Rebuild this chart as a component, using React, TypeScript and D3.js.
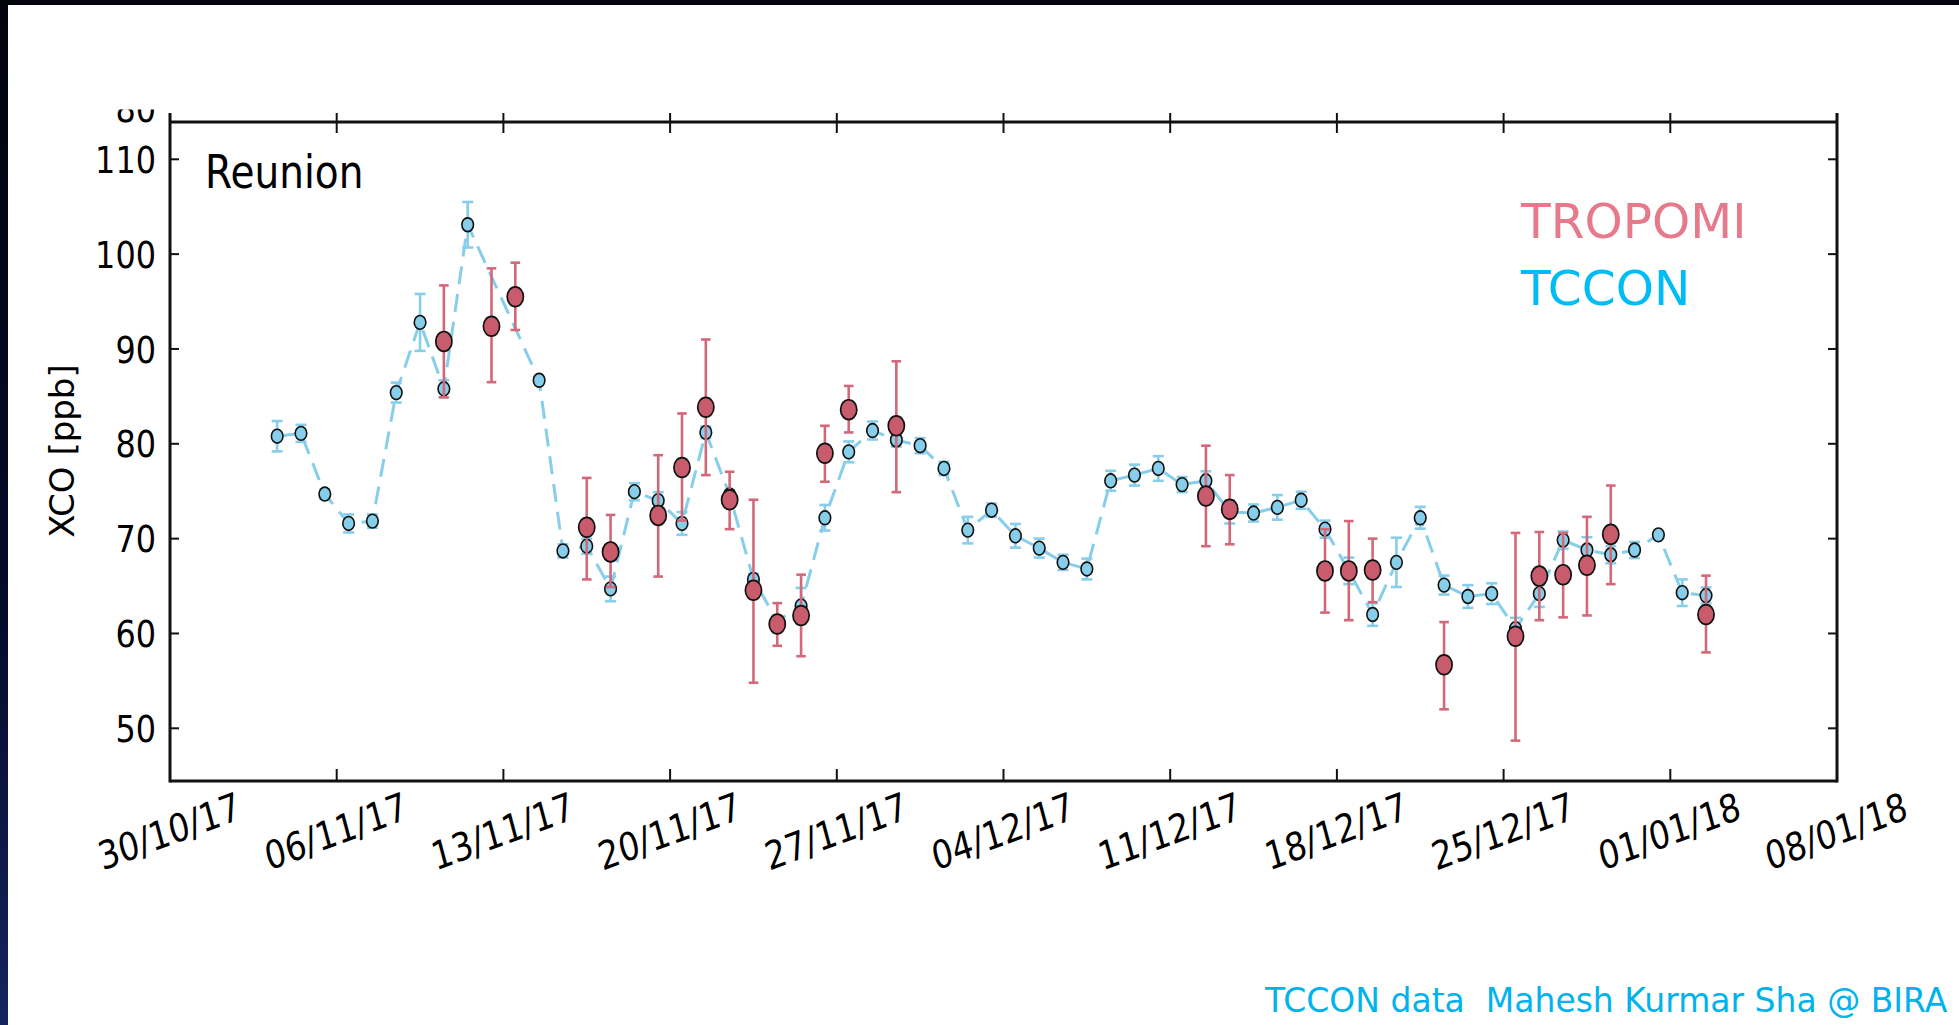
import React from "react";
import * as d3 from "d3";

// ---------- data ----------
const TCCON_DATES = [
  "2017-11-03","2017-11-04","2017-11-05","2017-11-06","2017-11-07","2017-11-08","2017-11-09","2017-11-10","2017-11-11",
  "2017-11-14","2017-11-15","2017-11-16","2017-11-17","2017-11-18","2017-11-19","2017-11-20","2017-11-21","2017-11-22",
  "2017-11-23","2017-11-24","2017-11-25","2017-11-26","2017-11-27","2017-11-28","2017-11-29","2017-11-30","2017-12-01",
  "2017-12-02","2017-12-03","2017-12-04","2017-12-05","2017-12-06","2017-12-07","2017-12-08","2017-12-09","2017-12-10",
  "2017-12-11","2017-12-12","2017-12-13","2017-12-14","2017-12-15","2017-12-16","2017-12-17","2017-12-18","2017-12-19",
  "2017-12-20","2017-12-21","2017-12-22","2017-12-23","2017-12-24","2017-12-25","2017-12-26","2017-12-27","2017-12-28",
  "2017-12-29","2017-12-30","2017-12-31","2018-01-01","2018-01-02",
];
const TCCON_XCO = [
  80.8, 81.1, 74.7, 71.6, 71.85, 85.4, 92.8, 85.8, 103.1,
  86.7, 68.7, 69.2, 64.7, 74.95, 74.0, 71.6, 81.2, 74.6,
  65.7, 61.3, 62.9, 72.2, 79.15, 81.4, 80.4, 79.8, 77.4,
  70.9, 73.0, 70.3, 69.0, 67.5, 66.8, 76.1, 76.7, 77.4,
  75.7, 76.1, 72.8, 72.7, 73.3, 74.05, 71.0, 66.6, 62.0,
  67.5, 72.2, 65.1, 63.9, 64.2, 60.5, 64.2, 69.85, 68.8,
  68.3, 68.8, 70.4, 64.3, 64.0,
];
const TCCON_ERR = [
  1.6, 0.9, 0.5, 0.95, 0.7, 1.05, 3.0, 0.9, 2.4,
  0.3, 0.7, 0.8, 1.3, 0.9, 0.9, 1.2, 0.6, 0.5,
  0.6, 0.5, 1.9, 1.35, 1.1, 0.95, 0.7, 0.8, 0.7,
  1.4, 0.7, 1.25, 1.0, 0.8, 1.1, 1.05, 1.1, 1.3,
  0.8, 1.0, 1.2, 0.9, 1.3, 0.9, 0.9, 1.4, 1.2,
  2.6, 1.15, 1.0, 1.2, 1.1, 1.15, 1.4, 0.9, 1.35,
  0.9, 0.85, 0.3, 1.4, 0.85,
];

const TROPOMI_DATES = [
  "2017-11-10","2017-11-12","2017-11-13","2017-11-16","2017-11-17","2017-11-19","2017-11-20","2017-11-21","2017-11-22",
  "2017-11-23","2017-11-24","2017-11-25","2017-11-26","2017-11-27","2017-11-29","2017-12-12","2017-12-13","2017-12-17",
  "2017-12-18","2017-12-19","2017-12-22","2017-12-25","2017-12-26","2017-12-27","2017-12-28","2017-12-29","2018-01-02",
];
const TROPOMI_XCO = [
  90.8, 92.4, 95.5, 71.2, 68.6, 72.45, 77.5, 83.85, 74.1,
  64.55, 61.0, 61.9, 79.0, 83.6, 81.9, 74.5, 73.1, 66.6,
  66.6, 66.7, 56.7, 59.7, 66.05, 66.2, 67.2, 70.45, 62.0,
];
const TROPOMI_LOW = [
  84.9, 86.5, 92.0, 65.7, 64.9, 66.0, 71.9, 76.7, 71.0,
  54.8, 58.7, 57.6, 76.0, 81.2, 74.9, 69.2, 69.4, 62.2,
  61.4, 63.3, 52.0, 48.7, 61.4, 61.7, 61.9, 65.2, 58.0,
];
const TROPOMI_HIGH = [
  96.7, 98.5, 99.1, 76.4, 72.5, 78.8, 83.2, 91.0, 77.05,
  74.1, 63.2, 66.2, 81.9, 86.1, 88.7, 79.8, 76.7, 71.0,
  71.85, 70.0, 61.2, 70.6, 70.7, 70.6, 72.3, 75.6, 66.1,
];

const X_START = "2017-10-30";
const X_END = "2018-01-08";
const Y_TICKS = [50, 60, 70, 80, 90, 100, 110];
const STATION = "Reunion";
const Y_LABEL = "XCO [ppb]";
const SERIES_NAMES = ["TROPOMI", "TCCON"];
const CREDIT = "TCCON data  Mahesh Kurmar Sha @ BIRA";

// ---------- layout ----------
const W = 1959, H = 1025;
const L = 170, R = 1837, TOP = 113, TOPSPINE = 122, BOT = 781;
const SX = 0.84; // horizontal squeeze of the reference
const FONT = "'DejaVu Sans', Verdana, sans-serif";

const parse = d3.timeParse("%Y-%m-%d");
const noon = (s: string) => d3.timeHour.offset(parse(s)!, 12);

const x = d3.scaleTime().domain([parse(X_START)!, parse(X_END)!]).range([L, R]);
const y = d3.scaleLinear().domain([50, 110]).range([728.3, 159.3]);
const xTicks = x.ticks(d3.timeMonday.every(1)!);
const fmt = d3.timeFormat("%d/%m/%y");

const tccon = TCCON_DATES.map((d, i) => ({ t: noon(d), v: TCCON_XCO[i], e: TCCON_ERR[i] }));
const tropomi = TROPOMI_DATES.map((d, i) => ({ t: noon(d), v: TROPOMI_XCO[i], lo: TROPOMI_LOW[i], hi: TROPOMI_HIGH[i] }));

const line = d3.line<{ t: Date; v: number }>().x((d) => x(d.t)).y((d) => y(d.v));

const BLUE = "#87CEEB";
const RED_FILL = "#C95C6C";
const RED_BAR = "#D26878";

export default function App() {
  return (
    <div style={{ position: "absolute", left: 0, top: 0 }}>
      <svg width={W} height={H} viewBox={`0 0 ${W} ${H}`} style={{ display: "block" }}>
        <defs>
          <linearGradient id="edge" x1="0" y1="0" x2="0" y2="1">
            <stop offset="0" stopColor="#02030c" />
            <stop offset="0.6" stopColor="#040a2a" />
            <stop offset="1" stopColor="#15245f" />
          </linearGradient>
          <clipPath id="cut">
            <rect x={100} y={109.5} width={70} height={14} />
          </clipPath>
        </defs>
        <rect x={0} y={0} width={W} height={H} fill="#ffffff" />
        <rect x={0} y={0} width={8} height={H} fill="url(#edge)" />
        <rect x={0} y={0} width={W} height={5} fill="#03040c" />

        {/* TCCON dashed line */}
        <path d={line(tccon) || ""} fill="none" stroke={BLUE} strokeWidth={3} strokeDasharray="18 10" />
        {/* TCCON error bars */}
        {tccon.map((d, i) => {
          const cx = x(d.t);
          const y1 = y(d.v + d.e), y2 = y(d.v - d.e);
          return (
            <g key={"tb" + i} stroke={BLUE} strokeWidth={2.6}>
              <line x1={cx} x2={cx} y1={y1} y2={y2} />
              <line x1={cx - 5.5} x2={cx + 5.5} y1={y1} y2={y1} />
              <line x1={cx - 5.5} x2={cx + 5.5} y1={y2} y2={y2} />
            </g>
          );
        })}
        {tccon.map((d, i) => (
          <ellipse key={"tm" + i} cx={x(d.t)} cy={y(d.v)} rx={5.8} ry={6.9} fill={BLUE} stroke="#111" strokeWidth={1.6} />
        ))}

        {/* TROPOMI error bars and markers */}
        {tropomi.map((d, i) => {
          const cx = x(d.t);
          const y1 = y(d.hi), y2 = y(d.lo);
          return (
            <g key={"rb" + i} stroke={RED_BAR} strokeWidth={2.6}>
              <line x1={cx} x2={cx} y1={y1} y2={y2} />
              <line x1={cx - 4.8} x2={cx + 4.8} y1={y1} y2={y1} />
              <line x1={cx - 4.8} x2={cx + 4.8} y1={y2} y2={y2} />
            </g>
          );
        })}
        {tropomi.map((d, i) => (
          <ellipse key={"rm" + i} cx={x(d.t)} cy={y(d.v)} rx={8.1} ry={9.9} fill={RED_FILL} stroke="#111" strokeWidth={1.7} />
        ))}

        {/* axes frame */}
        <g stroke="#111" strokeWidth={3} fill="none">
          <line x1={L} x2={R} y1={TOPSPINE} y2={TOPSPINE} />
          <line x1={L} x2={R} y1={BOT} y2={BOT} />
          <line x1={L} x2={L} y1={TOP} y2={BOT + 1.5} />
          <line x1={R} x2={R} y1={TOP} y2={BOT + 1.5} />
        </g>
        <g stroke="#111" strokeWidth={2}>
          {xTicks.map((t, i) => (
            <g key={"xt" + i}>
              <line x1={x(t)} x2={x(t)} y1={BOT} y2={BOT - 12} />
              <line x1={x(t)} x2={x(t)} y1={TOP} y2={TOP + 20} />
            </g>
          ))}
          {Y_TICKS.map((v) => (
            <g key={"yt" + v}>
              <line x1={L} x2={L + 9} y1={y(v)} y2={y(v)} />
              <line x1={R - 9} x2={R} y1={y(v)} y2={y(v)} />
            </g>
          ))}
        </g>

        {/* tick labels */}
        <g fontFamily={FONT} fontSize={38} fill="#000">
          {Y_TICKS.map((v) => (
            <text key={"yl" + v} transform={`translate(156,${y(v)}) scale(${SX},1)`} textAnchor="end" dy="0.36em">
              {v}
            </text>
          ))}
          <g clipPath="url(#cut)">
            <text transform={`translate(156,121.5) scale(${SX},1)`} textAnchor="end">80</text>
          </g>
          {xTicks.map((t, i) => (
            <text
              key={"xl" + i}
              transform={`translate(${x(t) - 1},831) scale(${SX},1) rotate(-17.5)`}
              textAnchor="middle"
              dy="0.36em"
              fontSize={39}
            >
              {fmt(t)}
            </text>
          ))}
        </g>

        {/* y label */}
        <text
          transform="translate(73.5,451) rotate(-90)"
          textAnchor="middle"
          fontFamily={FONT}
          fontSize={34}
          fill="#000"
        >
          {Y_LABEL}
        </text>

        {/* station */}
        <text transform={`translate(205,188) scale(${SX},1)`} fontFamily={FONT} fontSize={46.5} fill="#000">
          {STATION}
        </text>

        {/* legend */}
        <text x={1521} y={238} fontFamily={FONT} fontSize={48.6} fill="#E67A8A">{SERIES_NAMES[0]}</text>
        <text x={1521} y={305} fontFamily={FONT} fontSize={48.6} fill="#00BCF5">{SERIES_NAMES[1]}</text>

        {/* credit */}
        <text x={1265} y={1012} fontFamily={FONT} fontSize={33} fill="#00B2EE" style={{ whiteSpace: "pre" }}>
          {CREDIT}
        </text>
      </svg>
    </div>
  );
}
